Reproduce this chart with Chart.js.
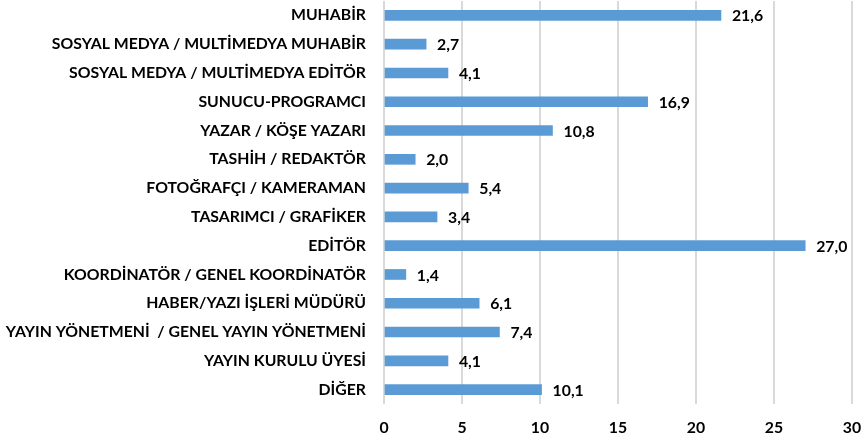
<!DOCTYPE html>
<html>
<head>
<meta charset="utf-8">
<script src="https://cdn.jsdelivr.net/npm/chart.js@4"></script>
<style>
html,body{margin:0;padding:0;background:#fff;}
#wrap{width:865px;height:439px;position:relative;}
</style>
</head>
<body>
<div id="wrap"><canvas id="c" width="865" height="439"></canvas></div>
<script>
const categories = [
  "MUHABİR",
  "SOSYAL MEDYA / MULTİMEDYA MUHABİR",
  "SOSYAL MEDYA / MULTİMEDYA EDİTÖR",
  "SUNUCU-PROGRAMCI",
  "YAZAR / KÖŞE YAZARI",
  "TASHİH / REDAKTÖR",
  "FOTOĞRAFÇI / KAMERAMAN",
  "TASARIMCI / GRAFİKER",
  "EDİTÖR",
  "KOORDİNATÖR / GENEL KOORDİNATÖR",
  "HABER/YAZI İŞLERİ MÜDÜRÜ",
  "YAYIN YÖNETMENİ  / GENEL YAYIN YÖNETMENİ",
  "YAYIN KURULU ÜYESİ",
  "DİĞER"
];
const values = [21.6, 2.7, 4.1, 16.9, 10.8, 2.0, 5.4, 3.4, 27.0, 1.4, 6.1, 7.4, 4.1, 10.1];
const xTicks = [0, 5, 10, 15, 20, 25, 30];

const FONT = "Lato";
const FSIZE = 15.8;
const valueLabels = {
  id: 'valueLabels',
  afterDatasetsDraw(chart) {
    const ctx = chart.ctx;
    const meta = chart.getDatasetMeta(0);
    ctx.save();
    ctx.font = "bold " + FSIZE + "px " + FONT;
    ctx.fillStyle = "#000";
    ctx.textBaseline = "middle";
    ctx.textAlign = "left";
    meta.data.forEach((bar, i) => {
      ctx.fillText(values[i].toFixed(1).replace('.', ','), bar.x + 11, bar.y + 1);
    });
    ctx.restore();
  }
};

new Chart(document.getElementById('c'), {
  type: 'bar',
  data: {
    labels: categories,
    datasets: [{
      data: values,
      backgroundColor: '#5B9BD5',
      barThickness: 10
    }]
  },
  options: {
    indexAxis: 'y',
    responsive: false,
    animation: false,
    layout: { padding: { top: 1, right: 13, left: 0, bottom: 0 } },
    plugins: { legend: { display: false }, tooltip: { enabled: false } },
    scales: {
      x: {
        min: 0, max: 30,
        afterBuildTicks(axis) { axis.ticks = xTicks.map(v => ({ value: v })); },
        afterFit(axis) { axis.paddingRight = 0; axis.paddingLeft = 0; axis.height = 35; },
        grid: { color: '#d9d9d9', lineWidth: 2, drawTicks: false },
        border: { display: false },
        ticks: { color: '#000', font: { family: FONT, size: FSIZE, weight: 'bold' }, padding: 14 }
      },
      y: {
        grid: { display: false, drawTicks: false },
        border: { display: false },
        afterFit(axis) { axis.width = 384; axis.paddingTop = 0; axis.paddingBottom = 0; },
        ticks: { color: '#000', font: { family: FONT, size: FSIZE, weight: 'bold' }, padding: 18, autoSkip: false }
      }
    }
  },
  plugins: [valueLabels]
});
</script>
</body>
</html>
